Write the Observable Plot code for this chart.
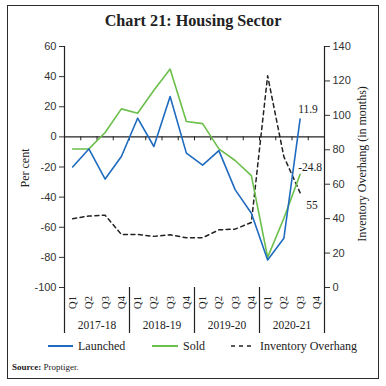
<!DOCTYPE html>
<html>
<head>
<meta charset="utf-8">
<script src="https://cdn.jsdelivr.net/npm/d3@7"></script>
<script src="https://cdn.jsdelivr.net/npm/@observablehq/plot@0.6"></script>
<style>
  html, body { margin: 0; padding: 0; background: #fff; }
  #wrap { position: relative; width: 386px; height: 386px; overflow: hidden; font-family: "Liberation Serif", serif; color: #222; }
  #border { position: absolute; left: 7px; top: 5px; width: 370px; height: 372px; border: 1.5px solid #2a2a2a; }
  #title { position: absolute; top: 12px; left: 0; width: 386px; text-align: center; font-weight: bold; font-size: 16.2px; }
  #chart { position: absolute; left: 0; top: 36px; }
  #legend { position: absolute; top: 338px; left: 0; width: 386px; height: 16px; font-size: 12px; }
  .lg { position: absolute; top: 0; display: flex; align-items: center; height: 16px; }
  .lg svg { margin-right: 5px; }
  #source { position: absolute; top: 362px; left: 12px; font-size: 9px; }
  .ylab { position: absolute; font-size: 12px; white-space: nowrap; }
</style>
</head>
<body>
<div id="wrap">
  <div id="border"></div>
  <div id="title">Chart 21: Housing Sector</div>
  <div id="chart"></div>
  <div class="ylab" style="left:25px; top:168px; transform: translate(-50%,-50%) rotate(-90deg);">Per cent</div>
  <div class="ylab" style="left:362px; top:164px; transform: translate(-50%,-50%) rotate(-90deg);">Inventory Overhang (in months)</div>
  <div id="legend">
    <div class="lg" style="left:48px"><svg width="25" height="4"><line x1="0" y1="2" x2="25" y2="2" stroke="#1f6bbf" stroke-width="2"/></svg>Launched</div>
    <div class="lg" style="left:152px"><svg width="26" height="4"><line x1="0" y1="2" x2="26" y2="2" stroke="#6bbf4a" stroke-width="2"/></svg>Sold</div>
    <div class="lg" style="left:231px"><svg width="24" height="4"><line x1="0" y1="2" x2="24" y2="2" stroke="#222" stroke-width="1.6" stroke-dasharray="4,4"/></svg>Inventory Overhang</div>
  </div>
  <div id="source"><b>Source:</b> Proptiger.</div>
</div>
<script>
const years = ["2017-18", "2018-19", "2019-20", "2020-21"];
const quarters = ["Q1", "Q2", "Q3", "Q4"];
const launched = [-20, -8, -28, -13, 12.4, -6.4, 26.8, -10.8, -18.8, -9.1, -35, -50.7, -81.7, -67.3, 11.9, null];
const sold = [-8, -8, 2.9, 18.6, 15.7, 31, 45, 10.2, 8.8, -8, -15.7, -25.7, -80, -54, -24.8, null];
const overhang = [40, 41.5, 42, 30.8, 30.8, 29.7, 30.6, 28.9, 28.9, 33.5, 33.9, 37.8, 123, 76, 55, null];
const leftTicks = [60, 40, 20, 0, -20, -40, -60, -80, -100];
const rightTicks = [0, 20, 40, 60, 80, 100, 120, 140];

// map right-axis values onto the left scale (0..140 -> -100..60)
const toLeft = v => -100 + v * 160 / 140;
const fromLeft = y => (y + 100) * 140 / 160;

const rows = [];
years.forEach((yr, yi) => quarters.forEach((q, qi) => {
  const i = yi * 4 + qi;
  rows.push({i, year: yr, q, launched: launched[i], sold: sold[i], overhang: overhang[i]});
}));
const last = rows[14];
const yBottom = -100 - 46 * 160 / 241;

const sans = "'Liberation Sans', Arial, sans-serif";

const plot = Plot.plot({
  width: 386,
  height: 300,
  marginLeft: 64,
  marginRight: 62,
  marginTop: 10,
  marginBottom: 49,
  x: {type: "linear", domain: [-0.5, 15.5], axis: null},
  y: {domain: [-100, 60], axis: null},
  style: {background: "transparent", overflow: "visible", color: "#333"},
  marks: [
    Plot.axisY(leftTicks, {anchor: "left", tickSize: 5, tickPadding: 3, fontSize: 11, fontFamily: sans, label: null, tickFormat: d => d}),
    Plot.axisY(rightTicks.map(toLeft), {anchor: "right", tickSize: 5, tickPadding: 3, fontSize: 11, fontFamily: sans, label: null, tickFormat: d => Math.round(fromLeft(d))}),
    Plot.ruleX([-0.5, 15.5], {y1: 60, y2: yBottom, stroke: "#222", strokeWidth: 1.2}),
    Plot.ruleX([3.5, 7.5, 11.5], {y1: -100, y2: yBottom, stroke: "#222", strokeWidth: 1.2}),
    Plot.ruleY([0], {stroke: "#222", strokeWidth: 1.2}),
    Plot.ruleX(d3.range(0.5, 15, 1), {y1: 0, y2: -2.6, stroke: "#222", strokeWidth: 1}),
    Plot.text(rows, {x: "i", y: -100, dy: 15, text: "q", rotate: -90, fontSize: 10.5, fontFamily: "'Liberation Serif', serif", fill: "#222"}),
    Plot.text(years, {x: (d, i) => i * 4 + 1.5, y: -100, dy: 38, text: d => d, fontSize: 11.5, fontFamily: "'Liberation Serif', serif", fill: "#222"}),
    Plot.line(rows, {x: "i", y: d => d.overhang == null ? null : toLeft(d.overhang), stroke: "#222", strokeWidth: 1.5, strokeDasharray: "4,3.5"}),
    Plot.line(rows, {x: "i", y: "sold", stroke: "#6bbf4a", strokeWidth: 1.6}),
    Plot.line(rows, {x: "i", y: "launched", stroke: "#1f6bbf", strokeWidth: 1.6}),
    Plot.text([last], {x: "i", y: "launched", text: d => d.launched.toFixed(1), textAnchor: "start", dx: -2, dy: -10, fontSize: 11.5, fontFamily: "'Liberation Serif', serif", fill: "#222"}),
    Plot.text([last], {x: "i", y: "sold", text: d => d.sold.toFixed(1), textAnchor: "start", dx: -2, dy: -7, fontSize: 11.5, fontFamily: "'Liberation Serif', serif", fill: "#222"}),
    Plot.text([last], {x: "i", y: d => toLeft(d.overhang), text: d => String(d.overhang), textAnchor: "start", dx: 6, dy: 12, fontSize: 11.5, fontFamily: "'Liberation Serif', serif", fill: "#222"})
  ]
});
document.getElementById("chart").appendChild(plot);
</script>
</body>
</html>
